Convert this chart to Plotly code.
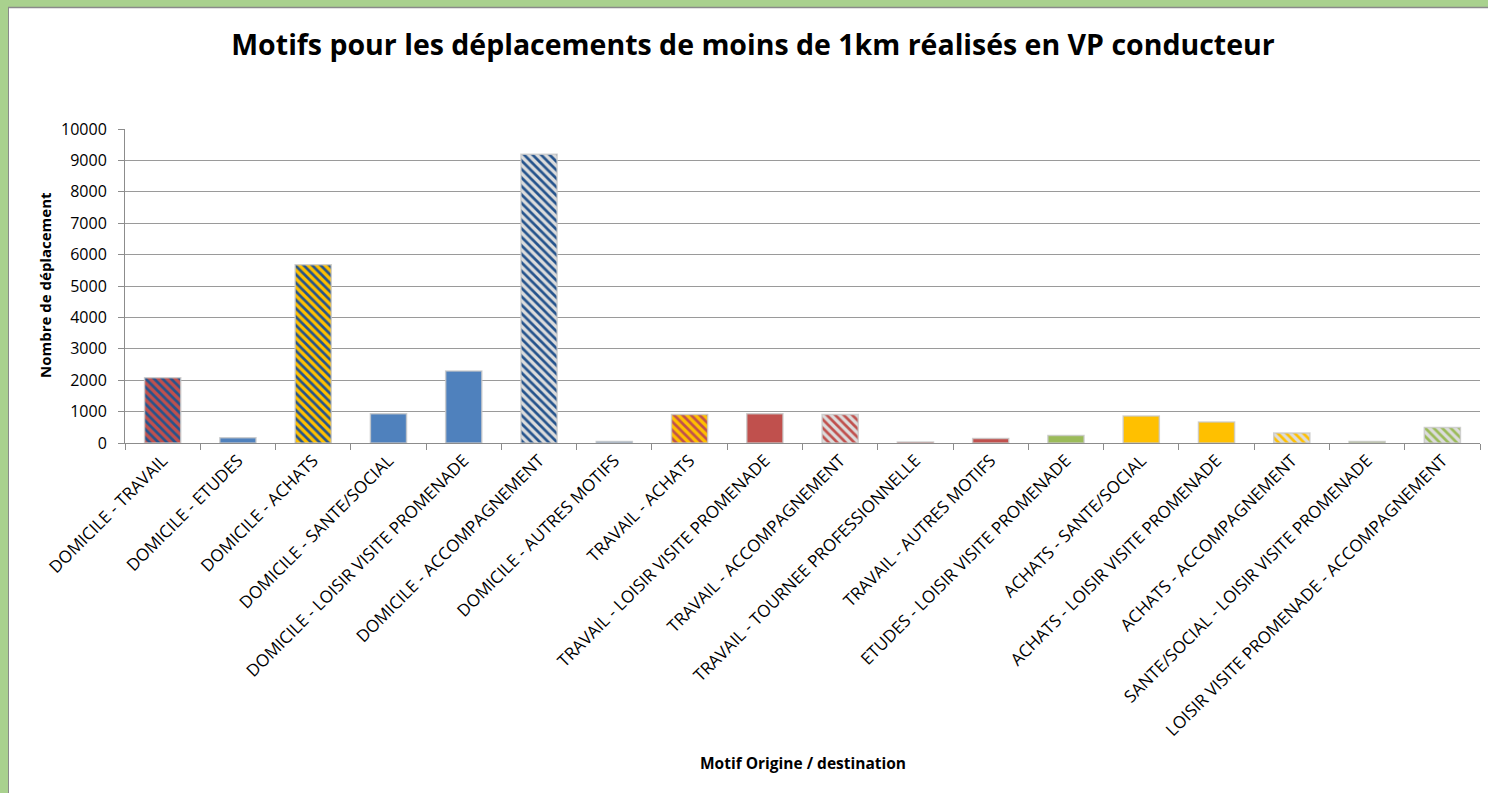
import plotly.graph_objects as go

categories = [
    "DOMICILE - TRAVAIL",
    "DOMICILE - ETUDES",
    "DOMICILE - ACHATS",
    "DOMICILE - SANTE/SOCIAL",
    "DOMICILE - LOISIR VISITE PROMENADE",
    "DOMICILE - ACCOMPAGNEMENT",
    "DOMICILE - AUTRES MOTIFS",
    "TRAVAIL - ACHATS",
    "TRAVAIL - LOISIR VISITE PROMENADE",
    "TRAVAIL - ACCOMPAGNEMENT",
    "TRAVAIL - TOURNEE PROFESSIONNELLE",
    "TRAVAIL - AUTRES MOTIFS",
    "ETUDES - LOISIR VISITE PROMENADE",
    "ACHATS - SANTE/SOCIAL",
    "ACHATS - LOISIR VISITE PROMENADE",
    "ACHATS - ACCOMPAGNEMENT",
    "SANTE/SOCIAL - LOISIR VISITE PROMENADE",
    "LOISIR VISITE PROMENADE - ACCOMPAGNEMENT",
]
values = [2080, 170, 5680, 935, 2295, 9195, 50, 910, 935, 910, 28, 145, 240, 860, 665, 315, 50, 495]

BLUE = "#4F81BD"
RED = "#C0504D"
YELLOW = "#FFC000"
GREEN = "#9BBB59"
DARK = "#25538C"
LIGHT = "#DCDCDC"

bg_colors = [RED, BLUE, YELLOW, BLUE, BLUE, LIGHT, BLUE, YELLOW, RED, LIGHT,
             RED, RED, GREEN, YELLOW, YELLOW, LIGHT, GREEN, LIGHT]
stripe_colors = [DARK, BLUE, DARK, BLUE, BLUE, DARK, BLUE, RED, RED, RED,
                 RED, RED, GREEN, YELLOW, YELLOW, YELLOW, GREEN, GREEN]
shapes_pat = ["\\", "", "\\", "", "", "\\", "", "\\", "", "\\",
              "", "", "", "", "", "\\", "", "\\"]

W, H = 1488, 793
L, R, T, B = 125, 8, 129, 350
pw = W - L - R
ph = H - T - B
FONT = "Open Sans, Lato, sans-serif"

fig = go.Figure()
for cat, val, bg, fg, pat in zip(categories, values, bg_colors, stripe_colors, shapes_pat):
    fig.add_trace(go.Bar(
        x=[cat],
        y=[val],
        marker=dict(
            color=bg,
            line=dict(color="rgba(200,200,200,0.8)", width=1.5),
            pattern=dict(shape=pat, fgcolor=fg, bgcolor=bg, size=6,
                         solidity=0.45, fillmode="replace"),
        ),
        width=0.48,
        showlegend=False,
    ))

def px_x(p):
    return (p - L) / pw

def px_y(p):
    return (H - B - p) / ph

shapes = [
    dict(type="rect", xref="paper", yref="paper", x0=px_x(0), x1=px_x(8),
         y0=px_y(H), y1=px_y(0), fillcolor="#A9D18E", line=dict(width=0), layer="below"),
    dict(type="rect", xref="paper", yref="paper", x0=px_x(0), x1=px_x(W),
         y0=px_y(7), y1=px_y(0), fillcolor="#A9D18E", line=dict(width=0), layer="below"),
    dict(type="line", xref="paper", yref="paper", x0=px_x(8.5), x1=px_x(8.5),
         y0=px_y(H), y1=px_y(7), line=dict(color="#8a8a8a", width=1)),
    dict(type="line", xref="paper", yref="paper", x0=px_x(8), x1=px_x(W),
         y0=px_y(7.5), y1=px_y(7.5), line=dict(color="#8a8a8a", width=1.5)),
]

fig.update_layout(
    width=W, height=H,
    margin=dict(l=L, r=R, t=T, b=B, autoexpand=False),
    paper_bgcolor="white",
    plot_bgcolor="white",
    barmode="overlay",
    font=dict(family=FONT, color="#000000"),
    title=dict(
        text="<b>Motifs pour les déplacements de moins de 1km réalisés en VP conducteur</b>",
        x=753 / W, xanchor="center", y=1 - 45 / H, yanchor="middle",
        font=dict(size=28.5, family=FONT, color="#000000"),
    ),
    shapes=shapes,
    xaxis=dict(
        type="category",
        tickangle=-45,
        tickfont=dict(size=17, family=FONT),
        showline=True, linecolor="#8c8c8c", linewidth=1,
        ticks="outside", ticklen=6, tickcolor="#8c8c8c",
        tickson="boundaries",
        showgrid=False,
        automargin=False,
    ),
    yaxis=dict(
        range=[0, 10000], dtick=1000, tickformat="d",
        tickfont=dict(size=16, family=FONT),
        showline=True, linecolor="#8c8c8c", linewidth=1,
        ticks="outside", ticklen=6, tickcolor="#8c8c8c",
        ticklabelstandoff=8,
        showgrid=True, gridcolor="#9a9a9a", gridwidth=1,
        zeroline=False,
        automargin=False,
    ),
)

fig.add_annotation(
    text="<b>Motif Origine / destination</b>", xref="paper", yref="paper",
    x=px_x(803), y=px_y(763), showarrow=False, xanchor="center", yanchor="middle",
    font=dict(size=15.5, family=FONT),
)
fig.add_annotation(
    text="<b>Nombre de déplacement</b>", xref="paper", yref="paper",
    x=px_x(45), y=px_y(285), showarrow=False, xanchor="center", yanchor="middle",
    textangle=-90, font=dict(size=15, family=FONT),
)

fig.write_html("out.html", config={"displayModeBar": False},
               post_script="document.body.style.margin='0';document.body.style.overflow='hidden';")
